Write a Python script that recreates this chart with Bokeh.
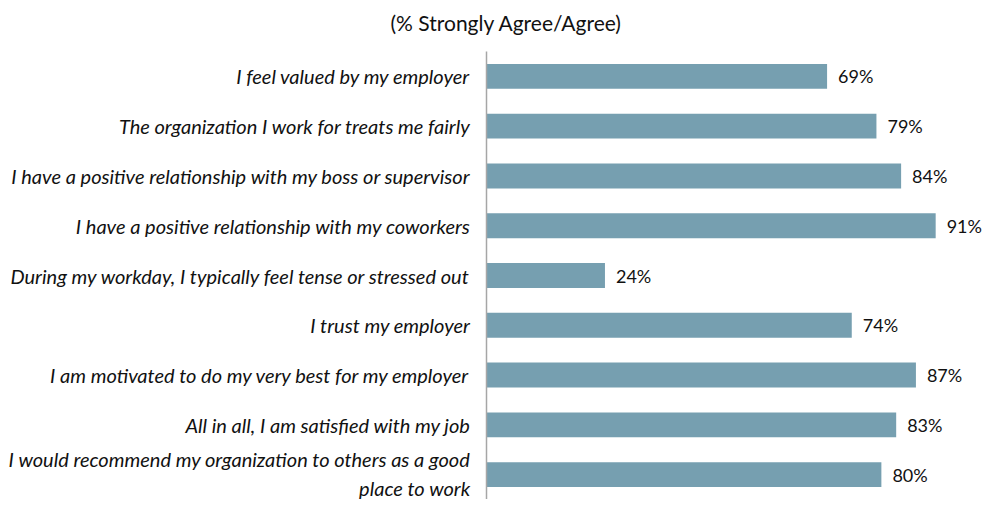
from bokeh.plotting import figure
from bokeh.models import FactorRange, Range1d, ColumnDataSource, Title
from bokeh.core.properties import value
from bokeh.embed import file_html
from bokeh.resources import INLINE

categories = [
    "I feel valued by my employer",
    "The organization I work for treats me fairly",
    "I have a positive relationship with my boss or supervisor",
    "I have a positive relationship with my coworkers",
    "During my workday, I typically feel tense or stressed out",
    "I trust my employer",
    "I am motivated to do my very best for my employer",
    "All in all, I am satisfied with my job",
    "I would recommend my organization to others as a good\nplace to work",
]
values = [69, 79, 84, 91, 24, 74, 87, 83, 80]
value_labels = [f"{v}%" for v in values]
title_text = "(% Strongly Agree/Agree)"

FONT = "Lato"
BAR_COLOR = "#769FB0"

src = ColumnDataSource(dict(cat=categories, val=values, lab=value_labels))

p = figure(
    title=None,
    width=987, height=499,
    y_range=FactorRange(factors=categories[::-1], range_padding=0),
    x_range=Range1d(0, 101.5),
    output_backend="svg", toolbar_location=None,
    min_border_left=486, min_border_right=0, min_border_bottom=0, min_border_top=0,
)
# spacer (closest to the frame), then the real title above it
p.add_layout(Title(text=" ", text_font=FONT, text_font_size="7px", standoff=0), "above")
p.add_layout(Title(text=title_text, align="left", offset=-96,
                   text_font=FONT, text_font_size="21px", text_font_style="normal",
                   text_color="#111111", standoff=14), "above")

p.hbar(y="cat", right="val", left=0, height=0.5, source=src,
       fill_color=BAR_COLOR, line_color=None)
p.text(x="val", y="cat", text="lab", source=src, x_offset=11,
       text_baseline="middle", text_align="left",
       text_font=value(FONT), text_font_size="18px", text_color="#111111")

p.xaxis.visible = False
p.xgrid.visible = False
p.ygrid.visible = False
p.outline_line_color = None
ya = p.yaxis[0]
ya.axis_line_color = "#a6a6a6"
ya.axis_line_width = 1.5
ya.major_tick_line_color = None
ya.minor_tick_line_color = None
ya.major_label_standoff = 10
ya.major_label_text_font = FONT
ya.major_label_text_font_style = "italic"
ya.major_label_text_font_size = "20px"
ya.major_label_text_color = "#111111"

open("out.html", "w").write(file_html(p, INLINE))
